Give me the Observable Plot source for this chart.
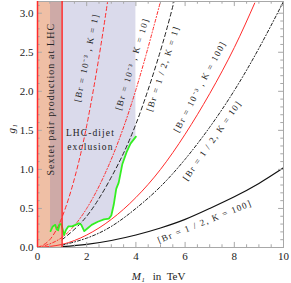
<!DOCTYPE html>
<html><head><meta charset="utf-8">
<script src="https://cdn.jsdelivr.net/npm/d3@7"></script>
<script src="https://cdn.jsdelivr.net/npm/@observablehq/plot@0.6"></script>
<style>
body{margin:0;background:#fff}
svg{display:block}
</style>
</head><body><div id="chart"></div>
<script>
const yMax = 3.15;
const xTicks = [0, 2, 4, 6, 8, 10];
const yTicks = [0, 0.5, 1, 1.5, 2, 2.5, 3];
const xMinor = [0.5,1,1.5,2.5,3,3.5,4.5,5,5.5,6.5,7,7.5,8.5,9,9.5];
const yMinor = [0.1,0.2,0.3,0.4,0.6,0.7,0.8,0.9,1.1,1.2,1.3,1.4,1.6,1.7,1.8,1.9,2.1,2.2,2.3,2.4,2.6,2.7,2.8,2.9,3.1];

// Sextet pair production band (M1 range)
const sextetBand = [{x1: 0, x2: 1}];

// LHC-dijet exclusion boundary (green)
const dijetM = [0.53,0.62,0.72,0.78,0.84,0.9,0.97,1.0,1.08,1.15,1.25,1.4,1.55,1.68,1.78,1.9,2.05,2.2,2.45,2.7,2.9,3.0,3.1,3.2,3.3,3.45,3.62,3.78,4.0];
const dijetG = [0.21,0.27,0.29,0.23,0.22,0.3,0.3,0.26,0.16,0.22,0.27,0.27,0.29,0.31,0.29,0.21,0.25,0.29,0.33,0.36,0.37,0.41,0.55,0.75,0.83,1.07,1.22,1.33,1.42];

// Curves
const redK1M = [0,0.5,1,1.5,2,2.5,2.85];
const redK1G = [0,0.1,0.39,0.88,1.56,2.44,3.15];
const redK10M = [0,1,2,3,4,5];
const redK10G = [0,0.13,0.5,1.13,2.02,3.15];
const blackK1M = [1,2,3,4,5,5.55];
const blackK1G = [0.1,0.4,0.9,1.58,2.52,3.15];
const redK100M = [0,1,2,3,4,5,6,7,8,8.83];
const redK100G = [0,0.04,0.16,0.36,0.64,1.0,1.45,1.97,2.56,3.13];
const blackK10M = [1,2,3,4,5,6,7,8,9,10];
const blackK10G = [0.03,0.12,0.27,0.5,0.78,1.13,1.54,2.01,2.55,3.15];
const blackK100M = [1,2,3,4,5,6,7,8,9,10];
const blackK100G = [0.01,0.04,0.09,0.16,0.25,0.36,0.5,0.65,0.82,1.02];

const labelText = ["[Br = 10⁻³ , K = 1]","[Br = 10⁻³ , K = 10]","[Br = 1 / 2, K = 1]","[Br = 10⁻³ , K = 100]","[Br = 1 / 2, K = 10]","[Br = 1 / 2, K = 100]"];
const labelM = [2.0, 3.85, 5.1, 6.6, 7.1, 6.8];
const labelG = [2.43, 2.35, 2.29, 2.06, 1.37, 0.33];
const labelAngle = [-78, -73, -72, -62, -55, -22];

const pts = (M, G) => M.map((m, i) => ({M: m, g: G[i]}));
const dijet = pts(dijetM, dijetG);
const labels = labelText.map((t, i) => ({t, M: labelM[i], g: labelG[i], a: labelAngle[i]}));

const red = "#ff2b2b";
const gray = "#a8a8a8";

const chart = Plot.plot({
  width: 291, height: 283,
  marginLeft: 37, marginRight: 8, marginTop: 1, marginBottom: 36,
  x: {domain: [0, 10]},
  y: {domain: [0, yMax]},
  style: {fontFamily: "'Liberation Serif', serif", fontSize: "11px", background: "white", color: "#222"},
  marks: [
    Plot.rect(sextetBand, {x1: "x1", x2: "x2", y1: () => 0, y2: () => yMax, fill: "#efbfa5"}),
    Plot.areaY(dijet, {x: "M", y1: "g", y2: () => yMax, fill: "#6a6ab0", fillOpacity: 0.25}),
    Plot.line(pts(redK1M, redK1G), {x: "M", y: "g", stroke: red, strokeWidth: 1, strokeDasharray: "4,3", curve: "natural"}),
    Plot.line(pts(redK10M, redK10G), {x: "M", y: "g", stroke: red, strokeWidth: 1, strokeDasharray: "3,2,1,2", curve: "natural"}),
    Plot.line(pts(blackK1M, blackK1G), {x: "M", y: "g", stroke: "#222", strokeWidth: 1, strokeDasharray: "4,3", curve: "natural"}),
    Plot.line(pts(redK100M, redK100G), {x: "M", y: "g", stroke: red, strokeWidth: 1, curve: "natural"}),
    Plot.line(pts(blackK10M, blackK10G), {x: "M", y: "g", stroke: "#222", strokeWidth: 1, strokeDasharray: "3,2,1,2", curve: "natural"}),
    Plot.line(pts(blackK100M, blackK100G), {x: "M", y: "g", stroke: "#111", strokeWidth: 1.2, curve: "natural"}),
    Plot.line(dijet, {x: "M", y: "g", stroke: "#33ee22", strokeWidth: 1.8}),
    Plot.frame({stroke: gray}),
    Plot.ruleX(xTicks, {x: d => d, y1: () => 0, y2: () => 0.065, stroke: gray}),
    Plot.ruleX(xMinor, {x: d => d, y1: () => 0, y2: () => 0.035, stroke: gray}),
    Plot.ruleX(xTicks, {x: d => d, y1: () => yMax - 0.065, y2: () => yMax, stroke: gray}),
    Plot.ruleX(xMinor, {x: d => d, y1: () => yMax - 0.035, y2: () => yMax, stroke: gray}),
    Plot.ruleY(yTicks, {y: d => d, x1: () => 0, x2: () => 0.2, stroke: gray}),
    Plot.ruleY(yMinor, {y: d => d, x1: () => 0, x2: () => 0.11, stroke: gray}),
    Plot.ruleY(yTicks, {y: d => d, x1: () => 9.8, x2: () => 10, stroke: gray}),
    Plot.ruleY(yMinor, {y: d => d, x1: () => 9.89, x2: () => 10, stroke: gray}),
    Plot.ruleX(sextetBand.flatMap(d => [d.x1, d.x2]), {x: d => d, stroke: red, strokeWidth: 1.5}),
    Plot.axisX(xTicks, {tickSize: 0, tickPadding: 5, label: null, fontSize: 11}),
    Plot.axisY(yTicks, {tickSize: 0, tickPadding: 4, label: null, tickFormat: d3.format(".1f"), fontSize: 11}),
    Plot.text(labels, {x: "M", y: "g", text: "t", rotate: "a", fontSize: 9, fill: "#222"}),
    Plot.text(["Sextet pair production at LHC"], {x: () => 0.55, y: () => 1.9, text: d => d, rotate: -90, fontSize: 10, fill: "#222"}),
    Plot.text(["LHC-dijet", "exclusion"], {x: () => 2.15, y: (d, i) => [1.47, 1.29][i], text: d => d, fontSize: 9.5, fill: "#222"}),
    Plot.text(["M₁"], {x: () => 4.1, y: () => 0, dy: 29, text: d => d, fontSize: 11, fontStyle: "italic", fill: "#222"}),
    Plot.text(["in  TeV"], {x: () => 5.35, y: () => 0, dy: 29, text: d => d, fontSize: 11, fill: "#222"}),
    Plot.text(["g₁"], {x: () => -1.05, y: () => 1.52, text: d => d, rotate: -90, fontSize: 11, fontStyle: "italic", fill: "#222"})
  ]
});
d3.select(chart).selectAll("text").each(function() {
  const t = this.textContent;
  if (t.startsWith("[Br")) this.setAttribute("letter-spacing", "1.25");
  else if (t.startsWith("Sextet")) this.setAttribute("letter-spacing", "1.1");
  else if (t === "LHC-dijet" || t === "exclusion") this.setAttribute("letter-spacing", "1.1");
});
document.getElementById("chart").append(chart);
</script>
</body></html>
